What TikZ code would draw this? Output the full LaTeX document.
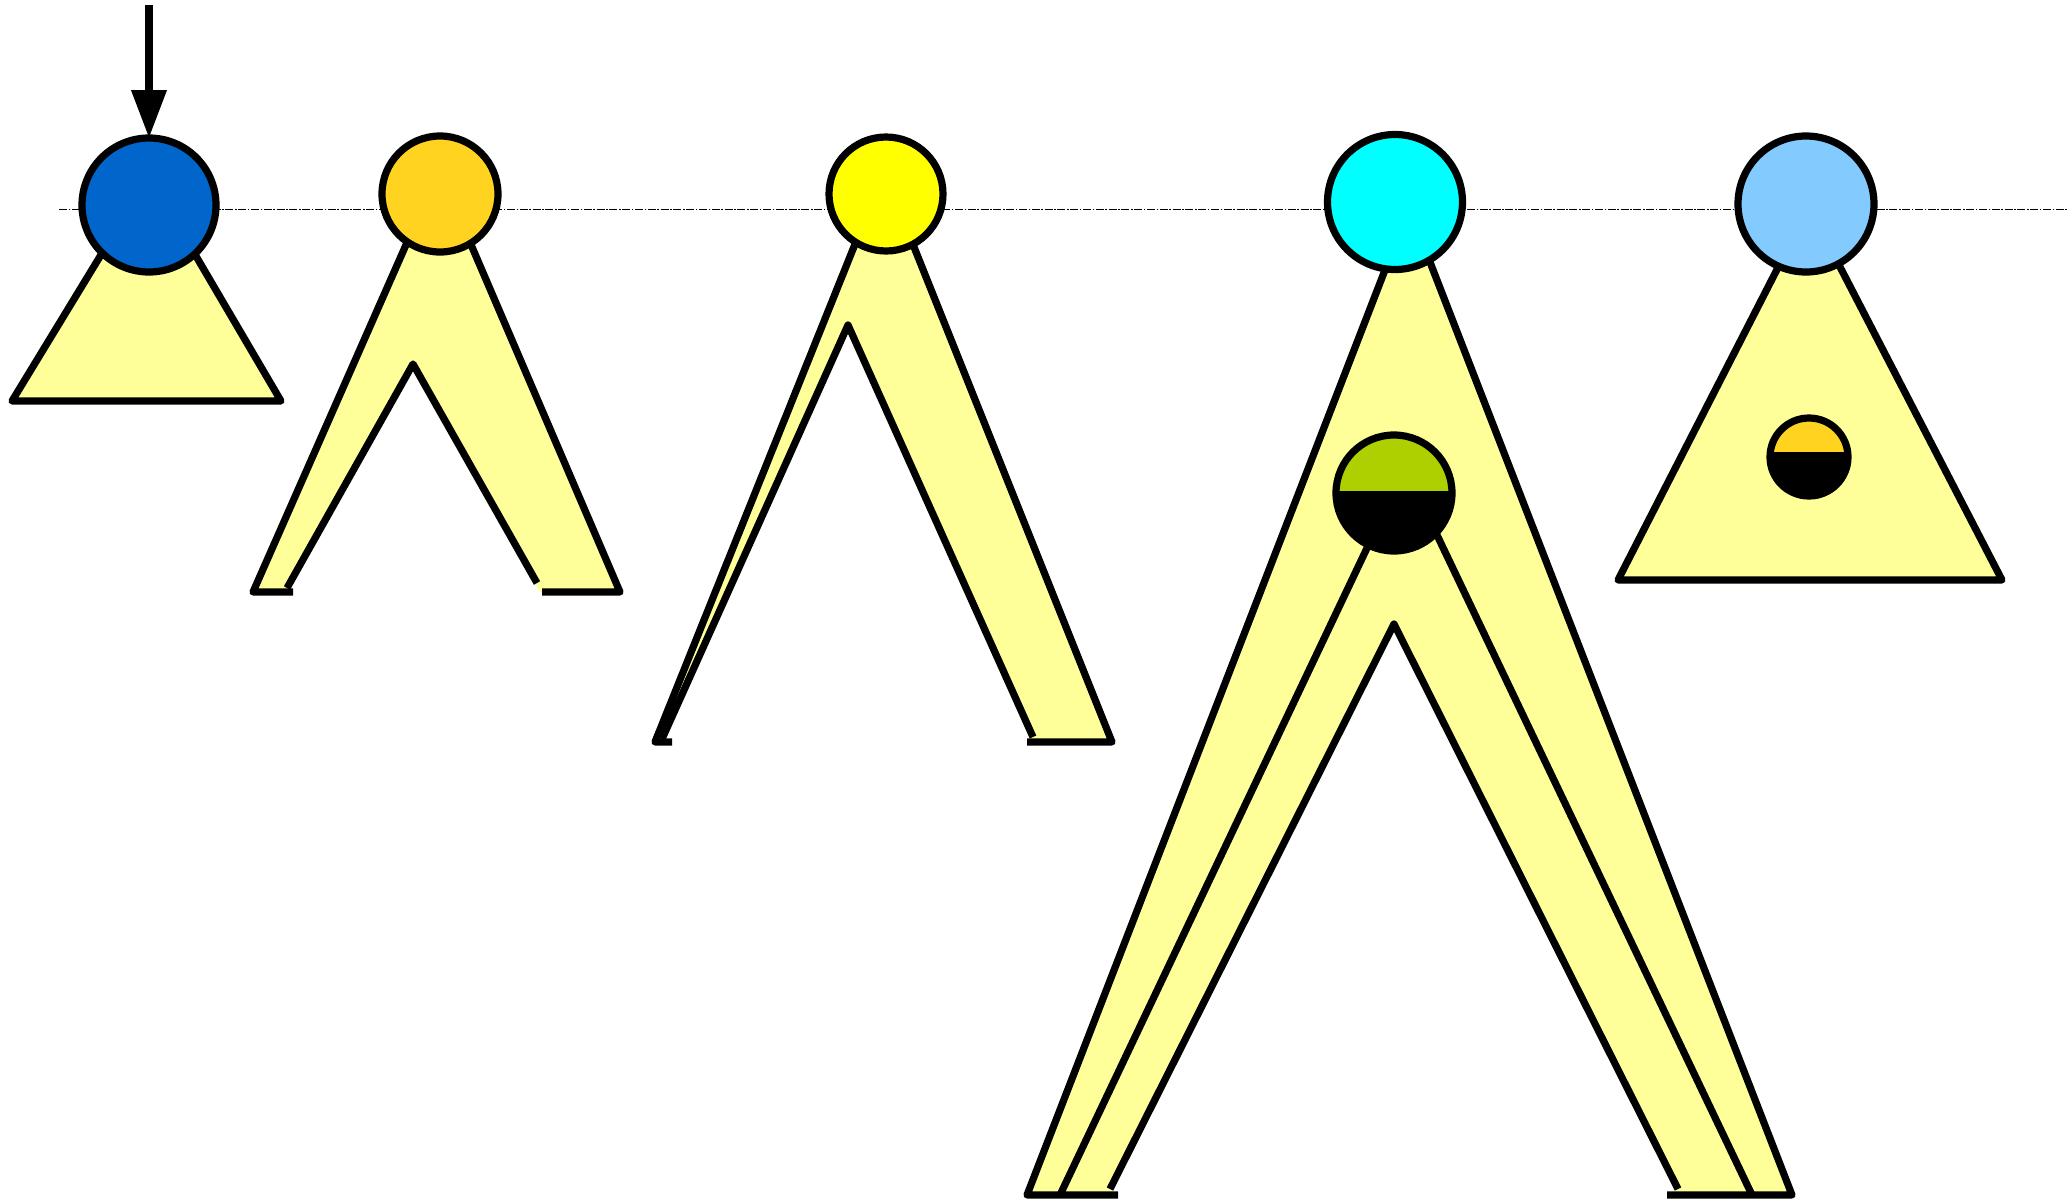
\documentclass[tikz,border=0pt]{standalone}
\usetikzlibrary{arrows.meta}
\definecolor{paleY}{HTML}{FFFF99}
\definecolor{cBlue}{HTML}{0066CC}
\definecolor{cGold}{HTML}{FFD320}
\definecolor{cYellow}{HTML}{FFFF00}
\definecolor{cCyan}{HTML}{00FFFF}
\definecolor{cLight}{HTML}{83CAFF}
\definecolor{cGreen}{HTML}{AECF00}
\begin{document}
\begin{tikzpicture}[x=0.5pt,y=-0.5pt,line width=3.6pt,
  legfill/.style={fill=paleY,draw=none},
  outline/.style={draw=black,line join=round,line cap=butt},
  ball/.style={circle,draw=black,line width=3.6pt,inner sep=0pt,outer sep=0pt},
  guide/.style={line width=0.5pt,dash pattern=on 4pt off 0.8pt on 0.8pt off 0.8pt}]
\useasboundingbox (0,0) rectangle (2069,1200);
% guide line
\coordinate (gl) at (59,209);
\coordinate (gr) at (2069,209);
\draw[guide] (gl) -- (gr);
% shape 1
\filldraw[fill=paleY,line join=round] (12,401) -- (149,176) -- (281,401) -- cycle;
% shape 2
\fill[paleY] (253,592) -- (439,170) -- (620,592) -- (540,592) -- (413,364) -- (288,592) -- cycle;
\draw[outline] (293,592) -- (253,592) -- (439,170) -- (620,592) -- (542,592);
\draw[outline] (537,583) -- (413,364) -- (287,588);
% shape 3
\fill[paleY] (655,742) -- (884,172) -- (1112,742) -- (1031,742) -- (848,325) -- (662,742) -- cycle;
\draw[outline] (672,742) -- (655,742) -- (884,172) -- (1112,742) -- (1027,742);
\draw[outline] (1033,737) -- (848,325) -- (662,739);
% shape 4
\fill[paleY] (1027,1195) -- (1409,208) -- (1792,1195) -- (1678,1195) -- (1394,624) -- (1110,1195) -- cycle;
\draw[outline] (1118,1195) -- (1027,1195) -- (1409,208) -- (1792,1195) -- (1667,1195);
\draw[outline] (1060,1195) -- (1405,468) -- (1752,1195);
\draw[outline] (1678,1189) -- (1394,624) -- (1110,1189);
% shape 5
\filldraw[fill=paleY,line join=round] (1618,580) -- (1809,207) -- (2002,580) -- cycle;
% circles
\node[ball,fill=cBlue,minimum size=67pt] (c1) at (149,205) {};
\node[ball,fill=cGold,minimum size=58pt] (c2) at (440,194) {};
\node[ball,fill=cYellow,minimum size=57pt] (c3) at (886,194) {};
\node[ball,fill=cCyan,minimum size=67.5pt] (c4) at (1395,202) {};
\node[ball,fill=cLight,minimum size=68pt] (c5) at (1806,204) {};
\node[ball,fill=black,minimum size=58pt,
  path picture={\fill[cGreen] ([yshift=1pt]path picture bounding box.west) rectangle (path picture bounding box.north east);}] (g4) at (1394,493) {};
\node[ball,fill=black,minimum size=39pt,
  path picture={\fill[cGold] ([yshift=2.5pt]path picture bounding box.west) rectangle (path picture bounding box.north east);}] (g5) at (1809,457) {};
% arrow
\coordinate (src) at (149,5);
\draw[line width=3.6pt,-{Triangle[width=17pt,length=24pt]}] (src) -- (c1.north);
\end{tikzpicture}
\end{document}
